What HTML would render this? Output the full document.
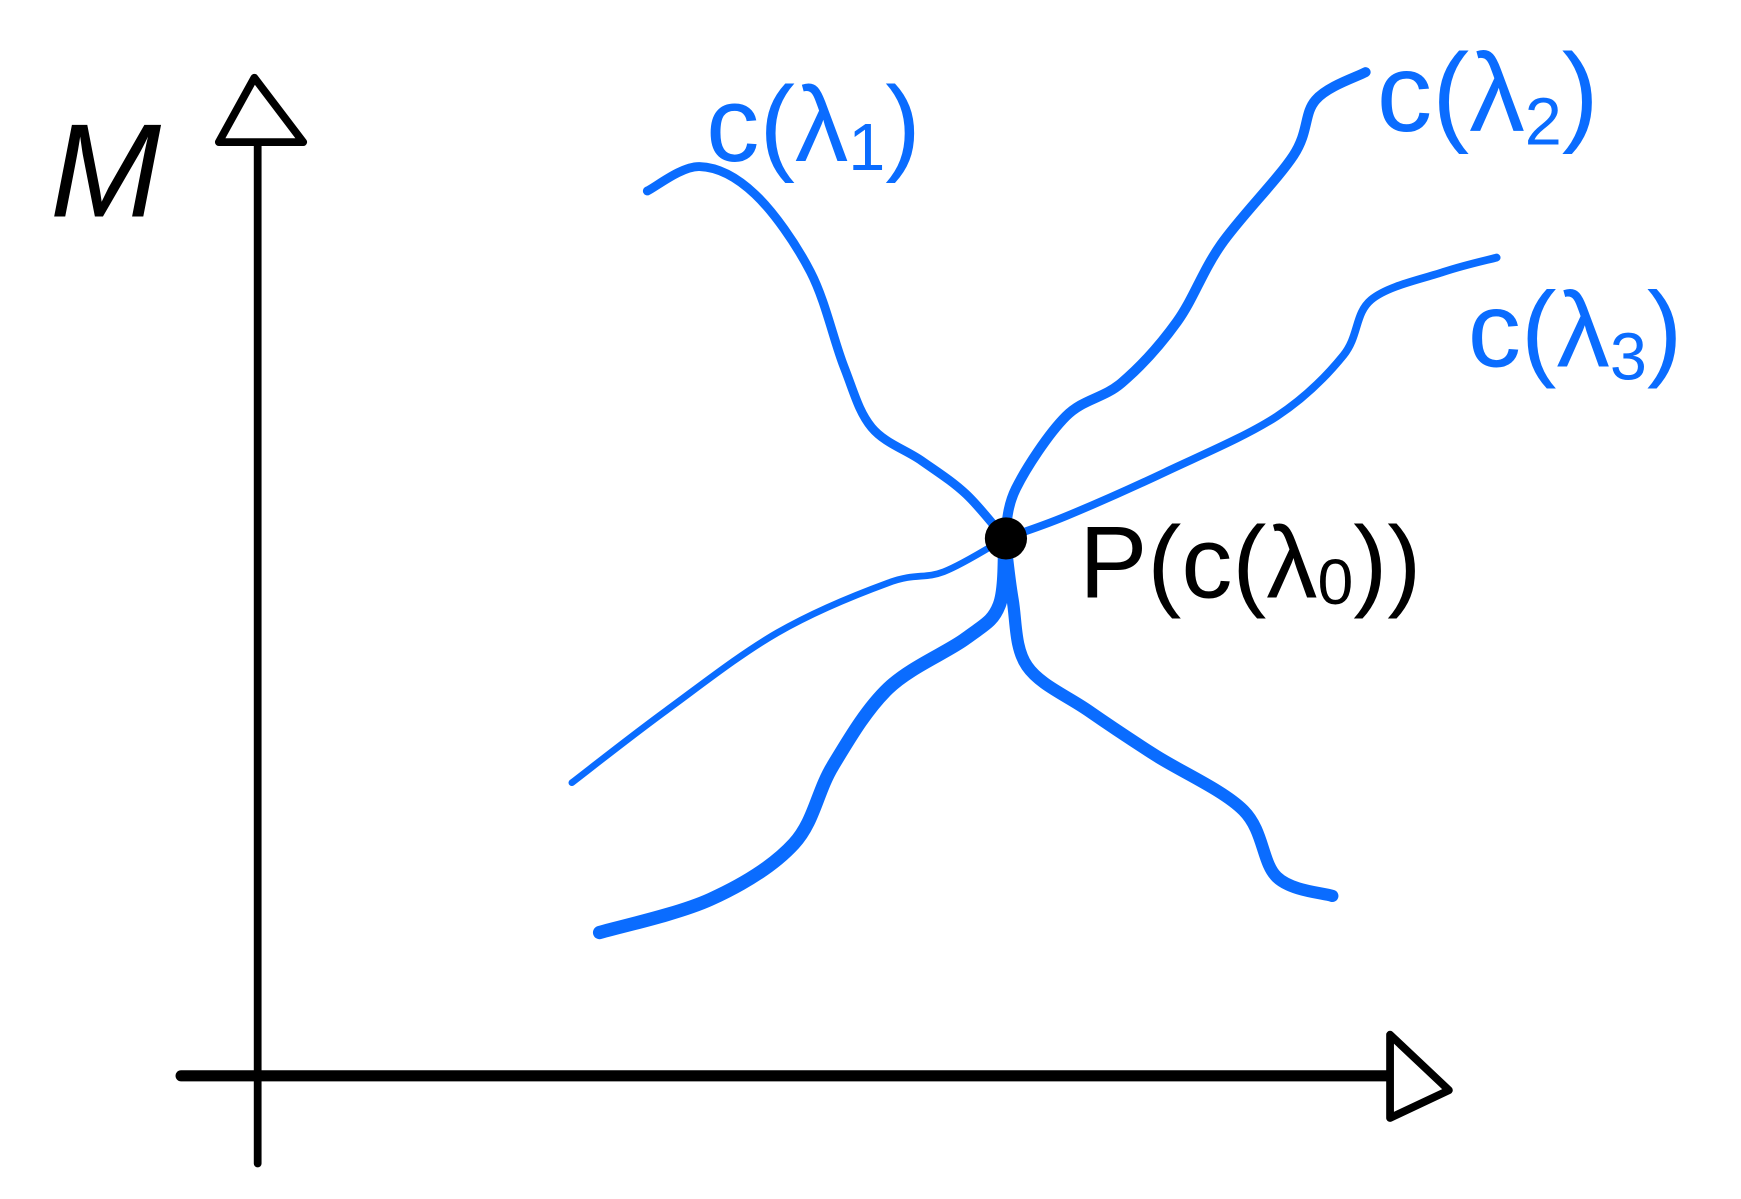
<!DOCTYPE html>
<html><head><meta charset="utf-8"><style>
html,body{margin:0;padding:0;background:#fff;}
svg{display:block;}
text{font-family:"Liberation Sans",sans-serif;}
</style></head><body>
<svg id="chart" width="1741" height="1199" viewBox="0 0 1568 1080" xmlns="http://www.w3.org/2000/svg">
<g>
<line x1="232" y1="130" x2="232" y2="1048" stroke="#000" stroke-width="7" stroke-linecap="round"/>
<polygon points="197,128 229,70 273,128" fill="#fff" stroke="#000" stroke-width="7" stroke-linejoin="round"/>
</g>
<g>
<line x1="163" y1="969" x2="1252" y2="969" stroke="#000" stroke-width="10" stroke-linecap="round"/>
<polygon points="1252,932 1305,982 1252,1007" fill="#fff" stroke="#000" stroke-width="7" stroke-linejoin="round"/>
</g>
<text x="45" y="195" font-size="120" font-style="italic" fill="#000">M</text>
<g id="curves"></g>
<circle cx="906" cy="485" r="19" fill="#000"/>
<text x="636" y="145" font-size="96" fill="#0a6cff">c(λ<tspan font-size="60" dy="8">1</tspan><tspan dy="-8">)</tspan></text>
<text x="1240" y="118" font-size="100" fill="#0a6cff">c(λ<tspan font-size="60" dy="12">2</tspan><tspan dy="-12">)</tspan></text>
<text x="1322" y="330" font-size="96" fill="#0a6cff">c(λ<tspan font-size="60" dy="12">3</tspan><tspan dy="-12">)</tspan></text>
<text x="972" y="538" font-size="92" fill="#000">P(c(λ<tspan font-size="58" dy="6">0</tspan><tspan dy="-6">))</tspan></text>
</svg>
<script>
const curveNames = ['curve-c-lambda1','curve-lower-left','curve-c-lambda2','curve-c-lambda3','curve-lower-right','curve-bottom'];
const curveWidths = [8,6,9,7,11,12];
const curveXs = [
 [583,630,680,730,760,785,830,870,905],
 [515,600,700,800,850,905],
 [905,915,960,1010,1060,1100,1165,1185,1230],
 [905,960,1050,1150,1210,1235,1300,1348],
 [905,912,925,980,1040,1120,1150,1200],
 [905,900,870,800,750,715,640,540]
];
const curveYs = [
 [172,150,175,245,330,385,415,445,485],
 [705,640,570,525,515,485],
 [485,440,375,345,290,220,140,90,65],
 [485,465,425,375,320,270,245,232],
 [485,540,600,640,680,730,790,807],
 [485,545,575,620,690,760,810,840]
];
function smooth(xs,ys){
 let d='M'+xs[0]+','+ys[0];
 for(let i=0;i<xs.length-1;i++){
  const x0=xs[i-1]??xs[i],y0=ys[i-1]??ys[i],x1=xs[i],y1=ys[i],x2=xs[i+1],y2=ys[i+1],x3=xs[i+2]??x2,y3=ys[i+2]??y2;
  d+=' C'+(x1+(x2-x0)/6)+','+(y1+(y2-y0)/6)+' '+(x2-(x3-x1)/6)+','+(y2-(y3-y1)/6)+' '+x2+','+y2;
 }
 return d;
}
const g=document.getElementById('curves');
curveXs.forEach((xs,i)=>{
 const p=document.createElementNS('http://www.w3.org/2000/svg','path');
 p.setAttribute('d',smooth(xs,curveYs[i]));
 p.setAttribute('fill','none');
 p.setAttribute('stroke','#0a6cff');
 p.setAttribute('stroke-width',curveWidths[i]);
 p.setAttribute('stroke-linecap','round');
 p.setAttribute('stroke-linejoin','round');
 
 
 g.appendChild(p);
});
</script>
</body></html>
